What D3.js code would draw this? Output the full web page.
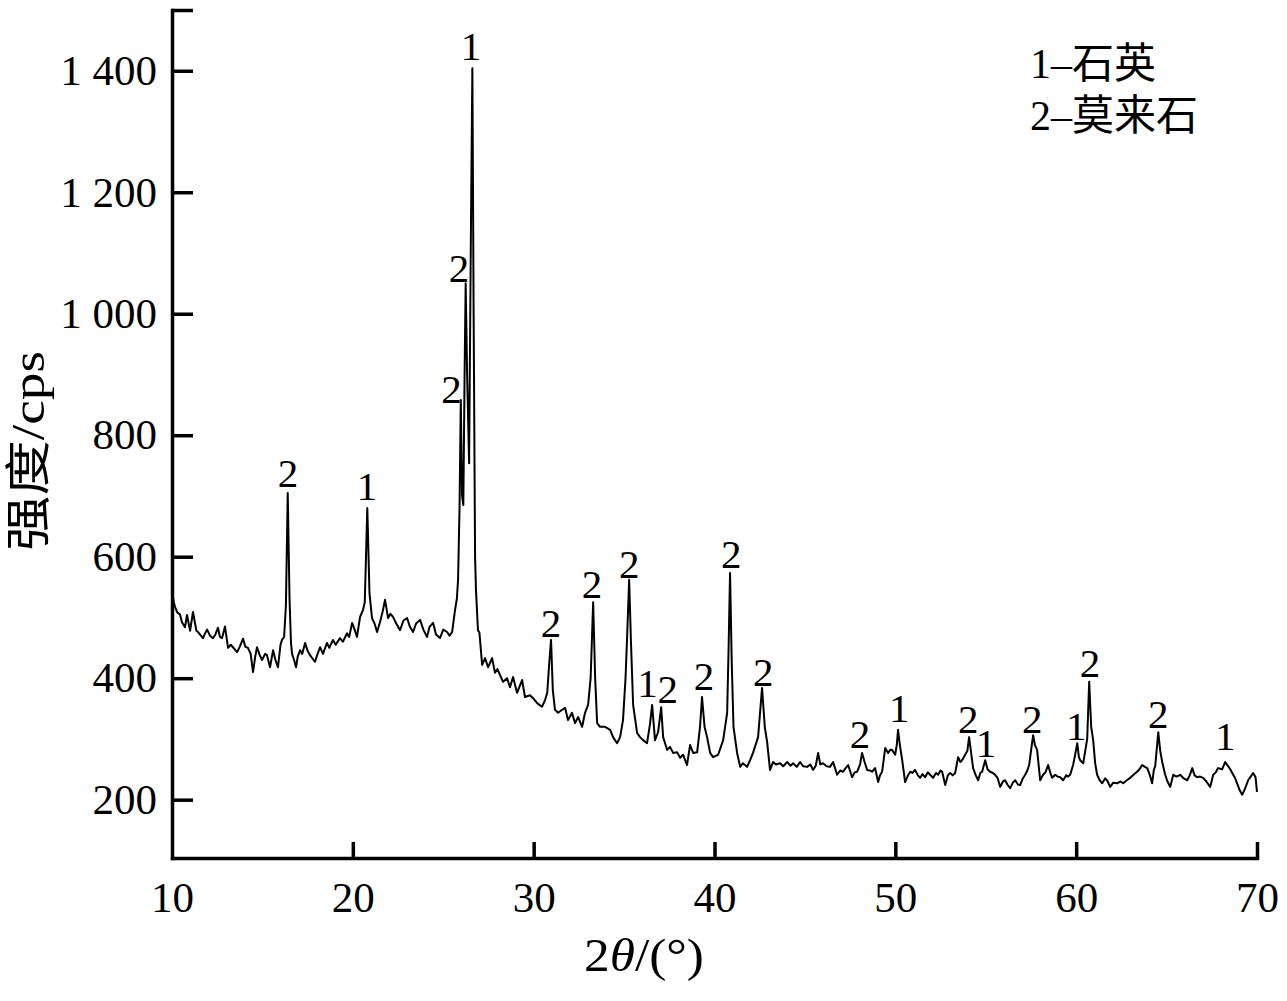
<!DOCTYPE html>
<html>
<head>
<meta charset="utf-8">
<script src="https://cdn.jsdelivr.net/npm/d3@7"></script>
<style>
  html, body { margin: 0; padding: 0; background: #fff; }
  svg { display: block; }
</style>
</head>
<body>
<div id="chart"></div>
<script>
// ---- Data ----
const twoTheta = [
  10.02,10.1,10.17,10.3,10.44,10.55,10.72,10.83,11.0,11.16,11.35,11.44,11.6,11.71,11.85,11.94,
  12.1,12.27,12.4,12.54,12.65,12.77,12.93,13.1,13.25,13.37,13.6,13.75,13.93,14.05,14.2,14.35,
  14.48,14.6,14.7,14.85,14.98,15.15,15.25,15.42,15.59,15.72,15.86,16.0,16.08,16.2,16.3,16.4,
  16.5,16.58,16.64,16.75,16.86,16.95,17.08,17.2,17.36,17.5,17.63,17.78,17.91,18.05,18.19,18.35,
  18.57,18.7,18.9,19.05,19.29,19.45,19.68,19.8,19.96,20.1,20.23,20.4,20.56,20.66,20.8,20.92,
  21.06,21.2,21.34,21.5,21.65,21.78,21.95,22.08,22.22,22.4,22.61,22.8,23.0,23.15,23.33,23.5,
  23.72,23.9,24.1,24.25,24.44,24.6,24.82,25.0,25.21,25.35,25.49,25.65,25.75,25.82,25.9,25.97,
  26.04,26.11,26.18,26.24,26.32,26.43,26.52,26.61,26.68,26.76,26.81,26.92,27.0,27.15,27.31,27.48,
  27.7,27.86,28.0,28.14,28.31,28.53,28.69,28.86,29.08,29.36,29.52,29.8,29.97,30.19,30.46,30.63,
  30.75,30.85,30.96,31.06,31.18,31.35,31.57,31.74,31.9,32.12,32.29,32.46,32.68,32.84,33.01,33.15,
  33.29,33.4,33.51,33.67,33.95,34.23,34.39,34.61,34.78,34.94,35.08,35.17,35.28,35.38,35.5,35.72,
  35.88,36.05,36.27,36.44,36.55,36.71,36.88,37.05,37.16,37.38,37.54,37.71,37.93,38.1,38.26,38.48,
  38.65,38.82,39.04,39.2,39.31,39.45,39.59,39.76,39.92,40.2,40.48,40.7,40.78,40.86,40.95,41.05,
  41.25,41.42,41.58,41.8,41.97,42.13,42.41,42.63,42.78,42.91,43.07,43.24,43.4,43.63,43.8,44.02,
  44.2,44.35,44.55,44.73,44.9,45.12,45.3,45.45,45.6,45.73,45.85,46.0,46.2,46.39,46.56,46.78,
  46.95,47.11,47.25,47.39,47.61,47.75,47.89,48.05,48.16,48.3,48.44,48.6,48.72,48.88,49.05,49.15,
  49.27,49.44,49.6,49.72,49.82,49.99,50.08,50.15,50.25,50.38,50.54,50.7,50.82,50.95,51.09,51.25,
  51.37,51.5,51.65,51.8,51.92,52.09,52.25,52.37,52.5,52.59,52.76,52.9,53.03,53.17,53.31,53.47,
  53.6,53.69,53.86,53.98,54.08,54.2,54.3,54.45,54.58,54.7,54.8,54.97,55.1,55.24,55.4,55.52,
  55.65,55.8,55.95,56.07,56.2,56.35,56.5,56.63,56.78,56.9,57.05,57.18,57.3,57.4,57.5,57.62,
  57.72,57.84,58.01,58.17,58.3,58.45,58.56,58.67,58.84,58.98,59.12,59.28,59.45,59.55,59.67,59.83,
  59.95,60.06,60.15,60.22,60.39,60.5,60.61,60.72,60.83,60.94,61.05,61.16,61.3,61.44,61.6,61.71,
  61.88,62.05,62.27,62.45,62.6,62.8,62.99,63.2,63.37,63.5,63.65,63.8,63.93,64.08,64.2,64.3,
  64.37,64.54,64.65,64.76,64.92,65.05,65.2,65.37,65.55,65.75,65.95,66.14,66.28,66.42,66.55,66.69,
  66.85,67.02,67.2,67.41,67.58,67.72,67.85,68.07,68.24,68.33,68.41,68.52,68.63,68.78,68.9,69.05,
  69.18,69.35,69.51,69.65,69.79,69.92,70.0
];
const intensity = [
  540,525,517,508,505,492,484,504,478,509,478,476,470,466,475,480,
  470,466,472,483,468,466,485,450,455,451,443,452,465,452,450,440,
  410,435,451,438,430,440,438,418,446,430,418,455,463,468,520,705,
  530,458,440,430,418,435,446,440,458,445,438,432,427,440,451,440,
  458,450,463,455,466,460,474,468,491,480,468,501,512,525,680,540,
  499,490,476,492,510,529,499,506,501,490,479,495,499,485,476,490,
  496,480,468,485,491,472,466,480,476,470,476,512,530,562,680,858,
  700,685,900,1050,900,754,1100,1404,1000,600,545,479,475,422,433,418,
  433,409,415,405,394,400,385,402,376,397,369,372,367,359,353,364,
  376,420,463,380,348,343,348,351,331,343,326,336,320,343,356,400,
  525,400,326,320,320,315,303,293,303,331,400,470,562,460,356,310,
  303,298,293,326,356,298,311,352,303,282,287,277,278,269,274,257,
  290,277,278,320,369,320,303,277,270,274,298,343,450,573,430,320,
  277,254,260,254,265,277,303,384,320,295,249,262,258,260,255,262,
  256,260,254,262,255,254,258,249,256,277,258,260,255,254,262,241,
  248,246,252,257,237,245,246,258,277,262,249,248,246,252,229,240,
  246,285,277,282,282,274,290,315,290,265,229,240,246,244,249,240,
  236,242,237,245,241,236,244,241,248,246,224,240,244,240,244,270,
  262,265,274,280,303,275,252,240,232,244,246,265,250,246,244,241,
  236,221,230,232,225,219,228,232,225,224,235,241,248,257,280,306,
  290,282,232,241,245,257,245,236,241,238,237,232,240,238,241,257,
  275,293,270,265,260,280,300,394,320,298,260,241,232,227,235,232,
  221,228,227,230,227,232,236,242,246,250,257,254,252,240,227,250,
  255,311,280,262,241,230,221,241,238,241,235,232,240,252,240,237,
  238,236,230,221,241,245,252,250,262,258,255,250,244,236,227,215,
  208,219,232,238,244,237,213
];

// Peak annotations: label anchor in data units (2θ, intensity) and phase id
const peakTheta = [16.42,20.79,25.46,25.87,26.54,30.96,33.23,35.28,36.3,37.42,39.42,40.92,42.69,48.05,50.21,54.03,55.02,57.57,60.0,60.77,64.54,68.24];
const peakLabelValue = [715,693,853,1052,1417,468,532,565,369,359,381,581,387,285,328,310,270,310,298,402,318,282];
const peakPhase = ["2","1","2","2","1","2","2","2","1","2","2","2","2","2","1","2","1","2","1","2","2","1"];

const xTicks = [10,20,30,40,50,60,70];
const yTicks = [200,400,600,800,1000,1200,1400,1500];
const legendLines = ["1–石英","2–莫来石"];

// ---- Layout ----
const W = 1287, H = 1001;
const serif = "'Liberation Serif','Times New Roman','Noto Sans CJK SC',serif";

const svg = d3.select("#chart").append("svg")
  .attr("width", W).attr("height", H)
  .style("background", "#fff");

const x = d3.scaleLinear().domain([10, 70]).range([172, 1257]);
const y = d3.scaleLinear().domain([104, 1500]).range([858, 10]);

// Line
const pts = twoTheta.map((t, i) => [t, intensity[i]]);
svg.append("path")
  .datum(pts)
  .attr("fill", "none")
  .attr("stroke", "#000")
  .attr("stroke-width", 2)
  .attr("stroke-linejoin", "round")
  .attr("d", d3.line().x(d => x(d[0])).y(d => y(d[1])));

// Axes
const fmtY = d => d === 1500 ? "" : (d >= 1000 ? Math.floor(d / 1000) + " " + String(d % 1000).padStart(3, "0") : String(d));

const gx = svg.append("g")
  .attr("transform", "translate(0,858)")
  .call(d3.axisBottom(x).tickValues(xTicks).tickFormat(d3.format("d"))
    .tickSizeInner(-16).tickSizeOuter(0).tickPadding(23));

const gy = svg.append("g")
  .attr("transform", "translate(172,0)")
  .call(d3.axisLeft(y).tickValues(yTicks).tickFormat(fmtY)
    .tickSizeInner(-21).tickSizeOuter(0).tickPadding(15));

[gx, gy].forEach(g => {
  g.select(".domain").attr("stroke", "#000").attr("stroke-width", 3.5).attr("stroke-linecap", "square");
  g.selectAll(".tick line").attr("stroke", "#000").attr("stroke-width", 3.5);
  g.selectAll(".tick text")
    .attr("fill", "#000")
    .style("font-family", serif)
    .style("font-size", "43px");
});
gx.select(".tick:first-of-type line").remove();

// Peak labels
svg.append("g").selectAll("text")
  .data(peakTheta)
  .join("text")
  .attr("x", d => x(d))
  .attr("y", (d, i) => y(peakLabelValue[i]))
  .attr("text-anchor", "middle")
  .style("font-family", serif)
  .style("font-size", "41px")
  .attr("fill", "#000")
  .text((d, i) => peakPhase[i]);

// Legend
svg.append("g").selectAll("text")
  .data(legendLines)
  .join("text")
  .attr("x", 1030)
  .attr("y", (d, i) => 78 + i * 52)
  .style("font-family", serif)
  .style("font-size", "42px")
  .attr("fill", "#000")
  .text(d => d);

// Axis titles
svg.append("text")
  .attr("transform", "translate(44,451) rotate(-90)")
  .attr("text-anchor", "middle")
  .attr("textLength", 200)
  .attr("lengthAdjust", "spacingAndGlyphs")
  .style("font-family", serif)
  .style("font-size", "46px")
  .attr("fill", "#000")
  .text("强度/cps");

const xt = svg.append("text")
  .attr("x", 644).attr("y", 971)
  .attr("text-anchor", "middle")
  .attr("textLength", 120)
  .attr("lengthAdjust", "spacingAndGlyphs")
  .style("font-family", serif)
  .style("font-size", "46px")
  .attr("fill", "#000");
xt.append("tspan").text("2");
xt.append("tspan").style("font-style", "italic").text("θ");
xt.append("tspan").text("/(°)");
</script>
</body>
</html>
